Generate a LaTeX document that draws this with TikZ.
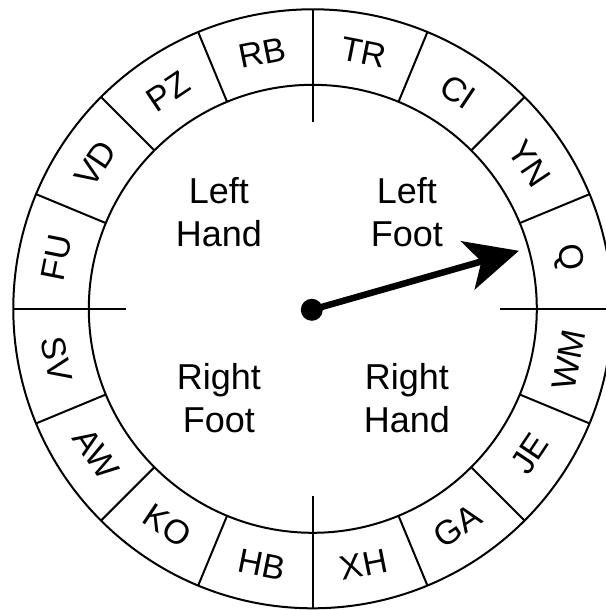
\documentclass[tikz,border=0pt]{standalone}
\usepackage{fontspec}
\setmainfont{Liberation Sans}
\usetikzlibrary{arrows.meta}
\begin{document}
\begin{tikzpicture}[x=1pt,y=1pt,
  ringline/.style={line width=2pt, black},
  ringlabel/.style={font=\fontsize{34}{40}\selectfont, inner sep=0pt},
  limb/.style={font=\fontsize{36}{43}\selectfont, align=center, inner sep=0pt},
  pointer/.style={line width=6.5pt, -{Stealth[length=53pt, width=50pt, inset=14pt]}}]
\useasboundingbox (-312.8,-301.2) rectangle (292.2,308.8);
\fill[white] (-312.8,-301.2) rectangle (292.2,308.8);
% circles
\draw[ringline] (0,0) circle[radius=299.5];
\draw[ringline] (0,0) circle[radius=224];
% sector dividers
\foreach \k in {1,2,3,5,6,7,9,10,11,13,14,15}{
  \draw[ringline] (\k*22.5:224) -- (\k*22.5:299.5);
}
% quadrant lines
\foreach \k in {0,90,180,270}{
  \draw[ringline] (\k:187) -- (\k:299.5);
}
% ring labels
\foreach \t [count=\i from 0] in {Q,YN,CI,TR,RB,PZ,VD,FU,SV,AW,KO,HB,XH,GA,JE,WM}{
  \pgfmathsetmacro\ang{11.25+22.5*\i}
  \pgfmathsetmacro\rot{\ang<180 ? \ang-90 : \ang+90}
  \node[ringlabel, rotate=\rot] (lab\i) at (\ang:261) {\t};
}
% limb labels
\node[limb] (lh) at (-94,96.3) {Left\\Hand};
\node[limb] (lf) at (94,96.3) {Left\\Foot};
\node[limb] (rf) at (-94,-89.2) {Right\\Foot};
\node[limb] (rh) at (94,-89.2) {Right\\Hand};
% spinner
\node[circle, fill=black, inner sep=0pt, minimum size=22pt] (hub) at (-1,-1) {};
\coordinate (tip) at (206.1,58);
\draw[pointer] (hub.center) -- (tip);
\end{tikzpicture}
\end{document}
